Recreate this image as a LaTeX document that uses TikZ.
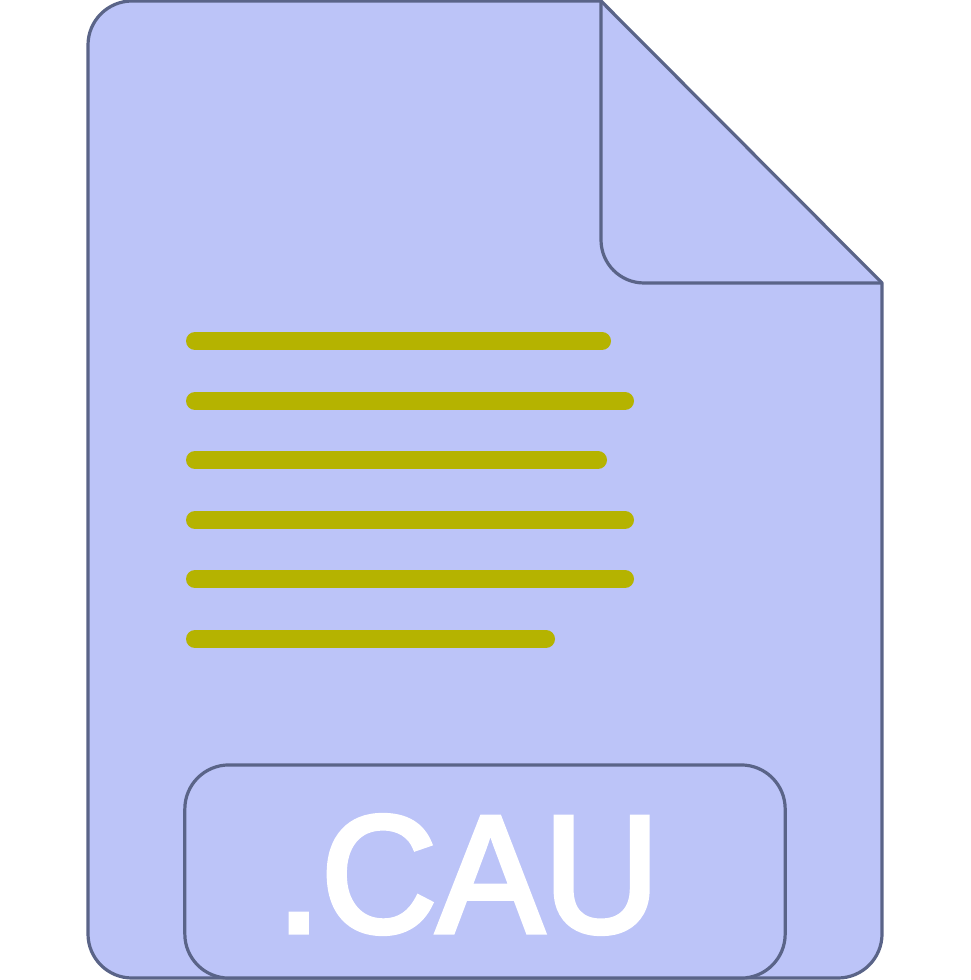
\documentclass[tikz,border=0pt]{standalone}
\usepackage{fontspec}
\newfontfamily\labelfont{Liberation Sans}[FakeBold=3, FakeStretch=0.96]
\usepackage{tikz}
\definecolor{pagefill}{HTML}{BCC4F8}
\definecolor{pageline}{HTML}{5A6488}
\definecolor{textline}{HTML}{B5B300}
\tikzset{
	outline/.style = {draw = pageline, line width = 0.32mm, line join = round},
	bar/.style = {draw = textline, line width = 1.8mm, line cap = round}
}

\begin{document}
\begin{tikzpicture}[x = 0.01cm, y = -0.01cm]
\useasboundingbox (0,0) rectangle (970,980);

% page
\draw[outline, fill = pagefill] (601,1) [rounded corners = 0.44cm] --(88,1)--(88,978)--(882,978)--(882,600) [sharp corners] --(882,283)--cycle;

% folded corner
\draw[outline] (601,1) [rounded corners = 0.43cm] --(601,283)--(750,283) [sharp corners] --(882,283);

% text lines
\foreach \y/\xend in {341/602, 401/625, 460/598, 520/625, 579/625, 639/546} {
	\draw[bar] (195,\y)--(\xend,\y);
}

% extension box
\node[outline, fill = pagefill, rounded corners = 0.44cm, minimum width = 6cm, minimum height = 2.13cm, inner sep = 0] (extbox) at (485,871.5) {};
\node[text = white, font = \fontsize{47.5}{48}\selectfont\labelfont, inner sep = 0, anchor = base] (extlabel) at (468,932) {.CAU};
\end{tikzpicture}
\end{document}
